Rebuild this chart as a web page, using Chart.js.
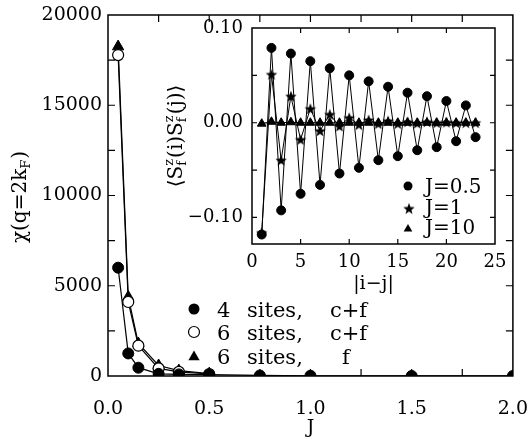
<!DOCTYPE html>
<html><head><meta charset="utf-8">
<script src="https://cdn.jsdelivr.net/npm/chart.js@4.4.1/dist/chart.umd.min.js"></script>
<style>
html,body{margin:0;padding:0;background:#fff;}
#wrap{position:relative;width:530px;height:439px;background:#fff;}
#wrap canvas{position:absolute;left:0;top:0;}
</style></head><body>
<div id="wrap"><canvas id="main" width="530" height="439"></canvas><canvas id="inset" width="530" height="439"></canvas></div>
<script>
// ---------- main chart data ----------
const jValues4 = [0.05, 0.1, 0.15, 0.25, 0.35, 0.5, 0.75, 1.0, 1.5, 2.0];
const chi4SitesCF = [6000, 1250, 460, 120, 90, 80, 30, 15, 5, 2];
const jValues6 = [0.05, 0.1, 0.15, 0.25, 0.35, 0.5];
const chi6SitesCF = [17780, 4100, 1680, 420, 230, 110];
const chi6SitesF = [18250, 4380, 1800, 580, 300, 130];
const mainXLabelTicks = [0, 0.5, 1.0, 1.5, 2.0];
const mainXMarkTicks = [0.25, 0.5, 0.75, 1.0, 1.25, 1.5, 1.75];
const mainYLabelTicks = [0, 5000, 10000, 15000, 20000];
const mainYMarkTicks = [2500, 5000, 7500, 10000, 12500, 15000, 17500];
const mainLegend = [['4', 'sites,', 'c+f'], ['6', 'sites,', 'c+f'], ['6', 'sites,', 'f']];

// ---------- inset data ----------
const distances = [1,2,3,4,5,6,7,8,9,10,11,12,13,14,15,16,17,18,19,20,21,22,23];
const corrJ05 = [-0.118, 0.079, -0.0925, 0.073, -0.075, 0.065, -0.0656, 0.0575, -0.0536, 0.050, -0.0476, 0.0437, -0.0395, 0.038, -0.0353, 0.0317, -0.029, 0.028, -0.0258, 0.0229, -0.0195, 0.0183, -0.0152];
const corrJ1 = [-0.116, 0.051, -0.0395, 0.028, -0.0177, 0.0148, -0.0085, 0.0088, -0.0036, 0.0053, -0.002, 0.003, -0.001, 0.002, -0.001, 0.001, -0.0005, 0.001, 0, 0.0005, 0, 0, 0];
const corrJ10 = [-0.001, 0.001, 0, 0.0005, 0, 0, 0, 0, 0, 0, 0, 0, 0, 0, 0, 0, 0, 0, 0, 0, 0, 0, 0];
const insetXLabelTicks = [0, 5, 10, 15, 20, 25];
const insetXMarkTicks = [5, 10, 15, 20];
const insetYLabelTicks = [-0.10, 0.00, 0.10];
const insetYMarkTicks = [-0.10, -0.05, 0.00, 0.05];
const insetLegend = ['J=0.5', 'J=1', 'J=10'];

const SERIF = "'DejaVu Serif', 'Liberation Serif', serif";
Chart.defaults.font.family = SERIF;
Chart.defaults.color = '#000';
Chart.defaults.animation = false;

function pts(xs, ys) { return xs.map((x, i) => ({x, y: ys[i]})); }

function makeStar(r) {
  const s = Math.ceil(r * 2 + 2);
  const c = document.createElement('canvas');
  c.width = s; c.height = s;
  const g = c.getContext('2d');
  g.translate(s / 2, s / 2 + r * 0.1);
  g.beginPath();
  for (let i = 0; i < 10; i++) {
    const a = -Math.PI / 2 + i * Math.PI / 5;
    const rr = i % 2 === 0 ? r : r * 0.42;
    g.lineTo(rr * Math.cos(a), rr * Math.sin(a));
  }
  g.closePath();
  g.fillStyle = '#000';
  g.fill();
  return c;
}
const starImg = makeStar(6);

function drawTri(ctx, x, y, r) {
  ctx.beginPath();
  let rad = 0;
  for (let i = 0; i < 3; i++) {
    const px = x + Math.sin(rad) * r, py = y - Math.cos(rad) * r;
    if (i === 0) ctx.moveTo(px, py); else ctx.lineTo(px, py);
    rad += 2 * Math.PI / 3;
  }
  ctx.closePath();
  ctx.fill();
}

// rich text: parts [{t}] or [{sub, sup}]
function drawRich(ctx, parts, cx, cy, size, rotate) {
  const nf = size + 'px ' + SERIF, sf = Math.round(size * 0.65) + 'px ' + SERIF;
  let total = 0;
  const widths = parts.map(p => {
    let w;
    if (p.t !== undefined) { ctx.font = nf; w = ctx.measureText(p.t).width; }
    else { ctx.font = sf; w = Math.max(p.sub ? ctx.measureText(p.sub).width : 0, p.sup ? ctx.measureText(p.sup).width : 0) + 1; }
    total += w; return w;
  });
  ctx.save();
  ctx.translate(cx, cy);
  if (rotate) ctx.rotate(-Math.PI / 2);
  ctx.fillStyle = '#000';
  ctx.textBaseline = 'alphabetic';
  ctx.textAlign = 'left';
  let x = -total / 2;
  const base = size * 0.33;
  parts.forEach((p, i) => {
    if (p.t !== undefined) { ctx.font = nf; ctx.fillText(p.t, x, base); }
    else {
      ctx.font = sf;
      if (p.sup) ctx.fillText(p.sup, x, base - size * 0.42);
      if (p.sub) ctx.fillText(p.sub, x, base + size * 0.2);
    }
    x += widths[i];
  });
  ctx.restore();
}

function frameAndMarks(chart, xMarks, yMarks, len) {
  const ctx = chart.ctx;
  const a = chart.chartArea;
  const sx = chart.scales.x, sy = chart.scales.y;
  ctx.save();
  ctx.strokeStyle = '#000';
  ctx.lineWidth = 1.2;
  ctx.beginPath();
  xMarks.forEach(v => {
    const px = sx.getPixelForValue(v);
    ctx.moveTo(px, a.bottom); ctx.lineTo(px, a.bottom - len);
    ctx.moveTo(px, a.top); ctx.lineTo(px, a.top + len);
  });
  yMarks.forEach(v => {
    const py = sy.getPixelForValue(v);
    ctx.moveTo(a.left, py); ctx.lineTo(a.left + len, py);
    ctx.moveTo(a.right, py); ctx.lineTo(a.right - len, py);
  });
  ctx.stroke();
  ctx.lineWidth = 1.5;
  ctx.beginPath();
  ctx.rect(a.left, a.top, a.right - a.left, a.bottom - a.top);
  ctx.stroke();
  ctx.restore();
}

const mainDecor = {
  id: 'mainDecor',
  afterDraw(chart) {
    frameAndMarks(chart, mainXMarkTicks, mainYMarkTicks, 7);
    const ctx = chart.ctx;
    drawRich(ctx, [{t: 'χ(q=2k'}, {sub: 'F'}, {t: ')'}], 19, 197, 20, true);
    ctx.save();
    ctx.fillStyle = '#000';
    ctx.font = '19px ' + SERIF;
    ctx.textAlign = 'center';
    ctx.textBaseline = 'alphabetic';
    ctx.fillText('J', chart.scales.x.getPixelForValue(1.0), 433);
    // legend
    const rows = [309, 332, 356], bases = [316.5, 340, 363.5];
    rows.forEach((ry, i) => {
      ctx.fillStyle = '#000';
      ctx.strokeStyle = '#000';
      ctx.lineWidth = 1.2;
      if (i === 0) { ctx.beginPath(); ctx.arc(194, ry, 5.5, 0, 2 * Math.PI); ctx.fill(); }
      else if (i === 1) { ctx.beginPath(); ctx.arc(194, ry, 5.5, 0, 2 * Math.PI); ctx.fillStyle = '#fff'; ctx.fill(); ctx.stroke(); ctx.fillStyle = '#000'; }
      else { drawTri(ctx, 194, ry + 1, 6.5); }
      ctx.font = '21px ' + SERIF;
      ctx.textAlign = 'left';
      const r = mainLegend[i];
      ctx.fillText(r[0], 217, bases[i]);
      ctx.fillText(r[1], 247, bases[i]);
      ctx.fillText(r[2], r[2] === 'f' ? 342 : 330, bases[i]);
    });
    ctx.restore();
  }
};

const insetDecor = {
  id: 'insetDecor',
  afterDraw(chart) {
    frameAndMarks(chart, insetXMarkTicks, insetYMarkTicks, 5);
    const ctx = chart.ctx;
    drawRich(ctx, [{t: '⟨S'}, {sub: 'f', sup: 'z'}, {t: '(i)S'}, {sub: 'f', sup: 'z'}, {t: '(j)⟩'}], 175, 136, 20, true);
    ctx.save();
    ctx.fillStyle = '#000';
    ctx.font = '19px ' + SERIF;
    ctx.textAlign = 'center';
    ctx.textBaseline = 'alphabetic';
    ctx.fillText('|i−j|', chart.scales.x.getPixelForValue(12.5), 289);
    const rows = [186, 208.5, 228], bases = [192.5, 214, 234];
    ctx.font = '20px ' + SERIF;
    rows.forEach((ry, i) => {
      if (i === 0) { ctx.beginPath(); ctx.arc(408, ry, 4.5, 0, 2 * Math.PI); ctx.fill(); }
      else if (i === 1) { ctx.drawImage(starImg, 409 - starImg.width / 2, ry - starImg.height / 2); }
      else { drawTri(ctx, 408, ry + 1, 5); }
      ctx.textAlign = 'left';
      ctx.fillText(insetLegend[i], 425, bases[i]);
    });
    ctx.restore();
  }
};

new Chart(document.getElementById('main'), {
  type: 'line',
  data: {
    datasets: [
      {label: '4 sites, c+f', data: pts(jValues4, chi4SitesCF), order: 1, borderColor: '#000', borderWidth: 1.2,
       pointStyle: 'circle', pointRadius: 5.5, pointBackgroundColor: '#000', pointBorderColor: '#000', pointBorderWidth: 1},
      {label: '6 sites, c+f', data: pts(jValues6, chi6SitesCF), order: 2, borderColor: '#000', borderWidth: 1.2,
       pointStyle: 'circle', pointRadius: 5.5, pointBackgroundColor: '#fff', pointBorderColor: '#000', pointBorderWidth: 1.2},
      {label: '6 sites, f', data: pts(jValues6, chi6SitesF), order: 3, borderColor: '#000', borderWidth: 1.2,
       pointStyle: 'triangle', pointRadius: 6.5, pointBackgroundColor: '#000', pointBorderColor: '#000', pointBorderWidth: 1}
    ]
  },
  options: {
    responsive: false,
    animation: false,
    events: [],
    layout: {padding: {left: 0, top: 15, right: 15, bottom: 0}},
    plugins: {legend: {display: false}, tooltip: {enabled: false}},
    scales: {
      x: {
        type: 'linear', min: 0, max: 2,
        grid: {display: false, drawTicks: true, tickLength: 20}, border: {display: false},
        afterBuildTicks: s => { s.ticks = mainXLabelTicks.map(v => ({value: v})); },
        afterFit: s => { s.height = 63; },
        ticks: {font: {size: 19}, padding: 2, maxRotation: 0, autoSkip: false, callback: v => Number(v).toFixed(1)}
      },
      y: {
        type: 'linear', min: 0, max: 20000,
        grid: {display: false, drawTicks: true, tickLength: 4}, border: {display: false},
        afterBuildTicks: s => { s.ticks = mainYLabelTicks.map(v => ({value: v})); },
        afterFit: s => { s.width = 108; },
        ticks: {font: {size: 19}, padding: 2, autoSkip: false, callback: v => String(v)}
      }
    }
  },
  plugins: [mainDecor]
});

new Chart(document.getElementById('inset'), {
  type: 'line',
  data: {
    datasets: [
      {label: 'J=0.5', data: pts(distances, corrJ05), order: 3, borderColor: '#000', borderWidth: 1,
       pointStyle: 'circle', pointRadius: 4.5, pointBackgroundColor: '#000', pointBorderColor: '#000', pointBorderWidth: 1},
      {label: 'J=1', data: pts(distances, corrJ1), order: 1, borderColor: '#000', borderWidth: 1,
       pointStyle: starImg, pointRadius: 6},
      {label: 'J=10', data: pts(distances, corrJ10), order: 2, borderColor: '#000', borderWidth: 1.2,
       pointStyle: 'triangle', pointRadius: 5, pointBackgroundColor: '#000', pointBorderColor: '#000', pointBorderWidth: 1}
    ]
  },
  options: {
    responsive: false,
    animation: false,
    events: [],
    layout: {padding: {left: 182, top: 28, right: 35, bottom: 165}},
    plugins: {legend: {display: false}, tooltip: {enabled: false}},
    scales: {
      x: {
        type: 'linear', min: 0, max: 25,
        grid: {display: false, drawTicks: true, tickLength: 6}, border: {display: false},
        afterBuildTicks: s => { s.ticks = insetXLabelTicks.map(v => ({value: v})); },
        afterFit: s => { s.height = 30; },
        ticks: {font: {size: 18}, padding: 2, maxRotation: 0, autoSkip: false, callback: v => String(v)}
      },
      y: {
        type: 'linear', min: -0.128, max: 0.10,
        grid: {display: false, drawTicks: true, tickLength: 7}, border: {display: false},
        afterBuildTicks: s => { s.ticks = insetYLabelTicks.map(v => ({value: v})); },
        afterFit: s => { s.width = 70; },
        ticks: {font: {size: 18}, padding: 2, autoSkip: false,
                callback: v => (v < 0 ? '−' : '') + Math.abs(v).toFixed(2)}
      }
    }
  },
  plugins: [insetDecor]
});
</script>
</body></html>
